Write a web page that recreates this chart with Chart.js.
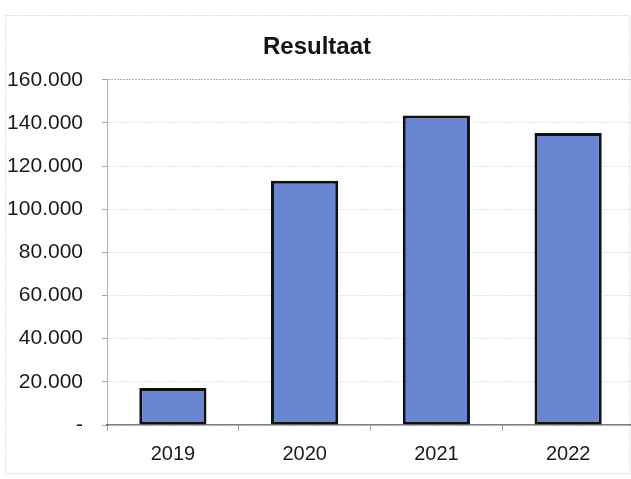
<!DOCTYPE html>
<html>
<head>
<meta charset="utf-8">
<script src="https://cdn.jsdelivr.net/npm/chart.js@4/dist/chart.umd.min.js"></script>
<style>
  html, body { margin: 0; padding: 0; background: #fff; overflow: hidden; width: 631px; height: 479px; }
  #wrap { position: relative; width: 640px; height: 479px; }
  canvas { display: block; }
</style>
</head>
<body>
<div id="wrap"><canvas id="c" width="640" height="479"></canvas></div>
<script>
// Jaarresultaten
const jaren = ['2019', '2020', '2021', '2022'];
const resultaat = [17200, 113200, 143400, 135300];
const yTicks = [0, 20000, 40000, 60000, 80000, 100000, 120000, 140000, 160000];

// Nederlandse notatie: duizendtallen met een punt, nul als streepje
function formatNL(v) {
  if (v === 0) return '-';
  return v.toLocaleString('nl-NL', { maximumFractionDigits: 0 }).replace(/\u00a0/g, '.');
}

// Dunne grijze kader rond de hele grafiek
const kader = {
  id: 'kader',
  beforeDraw(chart) {
    const ctx = chart.ctx;
    ctx.save();
    ctx.strokeStyle = 'rgba(0,0,0,0.13)';
    ctx.lineWidth = 1;
    ctx.setLineDash([2, 1]);
    ctx.strokeRect(5.5, 15.5, 624, 458);
    ctx.restore();
  }
};

const lettertype = 'Liberation Sans, Arial, sans-serif';

new Chart(document.getElementById('c'), {
  type: 'bar',
  data: {
    labels: jaren,
    datasets: [{
      data: resultaat,
      backgroundColor: '#6a86d2',
      borderColor: '#111',
      borderWidth: 3,
      borderSkipped: false,
      barPercentage: 0.51,
      categoryPercentage: 1
    }]
  },
  options: {
    responsive: false,
    animation: false,
    layout: { padding: { left: 0, right: 6, top: 0, bottom: 0 } },
    plugins: {
      legend: { display: false },
      tooltip: { enabled: false },
      title: {
        display: true,
        text: 'Resultaat',
        color: '#141414',
        font: { family: lettertype, size: 24, weight: 'bold', lineHeight: 1.2 },
        padding: { top: 33, bottom: 18 }
      }
    },
    scales: {
      x: {
        offset: true,
        grid: {
          display: true,
          drawOnChartArea: false,
          drawTicks: true,
          tickLength: 6,
          color: 'rgba(0,0,0,0.35)',
          offset: true
        },
        border: { display: true, color: 'rgba(0,0,0,0.5)', width: 1.5, dash: [2, 1] },
        ticks: {
          color: '#1a1a1a',
          padding: 11,
          font: { family: lettertype, size: 20 }
        },
        afterFit(scale) { scale.height = 54; }
      },
      y: {
        min: 0,
        max: 160000,
        afterBuildTicks(scale) { scale.ticks = yTicks.map(v => ({ value: v })); },
        grid: {
          color: (ctx) => ctx.tick && ctx.tick.value === 160000 ? 'rgba(0,0,0,0.3)' : 'rgba(0,0,0,0.10)',
          tickLength: 5,
          tickColor: 'rgba(0,0,0,0.35)'
        },
        border: { display: true, color: 'rgba(0,0,0,0.3)', width: 1, dash: [2, 1] },
        ticks: {
          color: '#1a1a1a',
          padding: 19,
          font: { family: lettertype, size: 21 },
          callback: (v) => formatNL(v)
        },
        afterFit(scale) { scale.width = 107; }
      }
    }
  },
  plugins: [kader]
});
</script>
</body>
</html>
